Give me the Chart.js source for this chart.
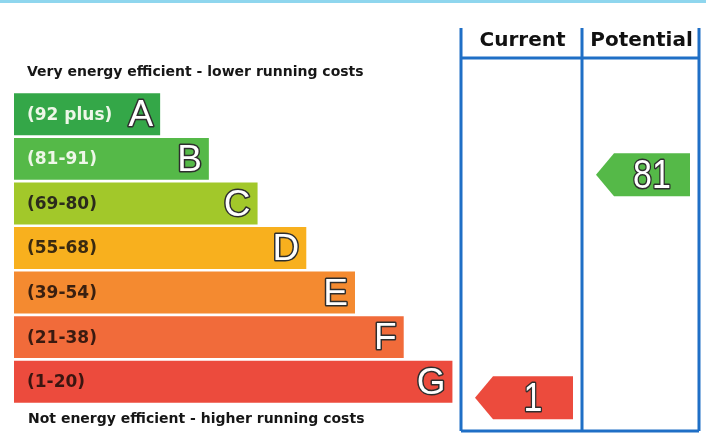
<!DOCTYPE html>
<html>
<head>
<meta charset="utf-8">
<script src="https://cdn.jsdelivr.net/npm/chart.js@4.4.1/dist/chart.umd.min.js"></script>
<style>
  html, body { margin: 0; padding: 0; background: #fff; }
  canvas { display: block; }
</style>
</head>
<body>
<canvas id="epc" width="706" height="434"></canvas>
<script>
// bandes energetiques
const bands = ['A', 'B', 'C', 'D', 'E', 'F', 'G'];
const bandRanges = ['(92 plus)', '(81-91)', '(69-80)', '(55-68)', '(39-54)', '(21-38)', '(1-20)'];
const bandMins = [92, 81, 69, 55, 39, 21, 1];
const bandLengths = [3, 4, 5, 6, 7, 8, 9];
const bandColors = ['#34a748', '#55b948', '#a2c82a', '#f8b01e', '#f48a30', '#f16b3a', '#ec4b3d'];
const rangeTextColors = ['#eef7e8', '#eef7e8', '#2b2b1c', '#3a2a10', '#3a2010', '#3a1a10', '#3a1510'];

// notes actuelle / potentielle
const columnTitles = ['Current', 'Potential'];
const scores = [1, 81];

function bandOf(score) {
    for (let i = 0; i < bandMins.length; i++) {
        if (score >= bandMins[i]) return i;
    }
    return bandMins.length - 1;
}

// texte blanc avec contour sombre, un peu resserre
function outlinedText(ctx, txt, x, y, squeeze) {
    ctx.save();
    ctx.translate(x, y);
    ctx.scale(squeeze, 1);
    ctx.lineWidth = 3;
    ctx.lineJoin = 'round';
    ctx.strokeStyle = '#2e2e2e';
    ctx.strokeText(txt, 0, 0);
    ctx.fillStyle = '#fff';
    ctx.fillText(txt, 0, 0);
    ctx.restore();
}

const epcPlugin = {
    id: 'epcPlugin',
    afterDraw(chart) {
        const ctx = chart.ctx;
        const yScale = chart.scales.y;
        const meta = chart.getDatasetMeta(0);
        ctx.save();

        // trait bleu clair en haut
        ctx.fillStyle = '#8fd6ee';
        ctx.fillRect(0, 0, 706, 3);

        // textes dans les bandes
        meta.data.forEach((bar, i) => {
            ctx.textBaseline = 'middle';
            ctx.textAlign = 'left';
            ctx.font = 'bold 17px "DejaVu Sans"';
            ctx.fillStyle = rangeTextColors[i];
            ctx.fillText(bandRanges[i], bar.base + 13, bar.y + 1);

            ctx.textAlign = 'right';
            ctx.font = '37px "Liberation Sans"';
            outlinedText(ctx, bands[i], bar.x - 7, bar.y + 2, 1);
        });

        // legendes haut / bas
        ctx.textAlign = 'left';
        ctx.fillStyle = '#161616';
        ctx.font = 'bold 14px "DejaVu Sans"';
        ctx.fillText('Very energy efficient - lower running costs', 27, 72);
        ctx.fillText('Not energy efficient - higher running costs', 28, 419);

        // colonnes
        const cols = [461, 582, 699];
        ctx.strokeStyle = '#1f6fc6';
        ctx.lineWidth = 3;
        ctx.beginPath();
        cols.forEach(x => { ctx.moveTo(x, 28); ctx.lineTo(x, 431); });
        ctx.moveTo(cols[0], 58); ctx.lineTo(cols[2], 58);
        ctx.moveTo(cols[0], 431); ctx.lineTo(cols[2], 431);
        ctx.stroke();

        ctx.fillStyle = '#111';
        ctx.font = 'bold 20px "DejaVu Sans"';
        ctx.textAlign = 'center';
        columnTitles.forEach((t, i) => {
            ctx.fillText(t, (cols[i] + cols[i + 1]) / 2 + 1, 41);
        });

        // fleches
        scores.forEach((score, i) => {
            const b = bandOf(score);
            const cy = yScale.getPixelForValue(b) + 16;
            const h = 43;
            const x0 = cols[i] + 14;
            const x1 = cols[i + 1] - 9;
            ctx.fillStyle = bandColors[b];
            ctx.beginPath();
            ctx.moveTo(x0, cy);
            ctx.lineTo(x0 + 18, cy - h / 2);
            ctx.lineTo(x1, cy - h / 2);
            ctx.lineTo(x1, cy + h / 2);
            ctx.lineTo(x0 + 18, cy + h / 2);
            ctx.closePath();
            ctx.fill();

            ctx.font = '40px "Liberation Sans"';
            ctx.textAlign = 'center';
            outlinedText(ctx, String(score), (x0 + 18 + x1) / 2, cy + 2, 0.85);
        });

        ctx.restore();
    }
};

document.addEventListener('DOMContentLoaded', function() {
    const ctx = document.getElementById('epc').getContext('2d');
    new Chart(ctx, {
        type: 'bar',
        data: {
            labels: bands,
            datasets: [{
                data: bandLengths,
                backgroundColor: bandColors,
                borderWidth: 0,
                barPercentage: 0.94,
                categoryPercentage: 1
            }]
        },
        options: {
            indexAxis: 'y',
            responsive: false,
            animation: false,
            layout: { padding: { left: 14, right: 10, top: 92, bottom: 30 } },
            plugins: {
                legend: { display: false },
                tooltip: { enabled: false }
            },
            scales: {
                x: { type: 'linear', min: 0, max: 14, display: false },
                y: { display: false }
            }
        },
        plugins: [epcPlugin]
    });
});
</script>
</body>
</html>
